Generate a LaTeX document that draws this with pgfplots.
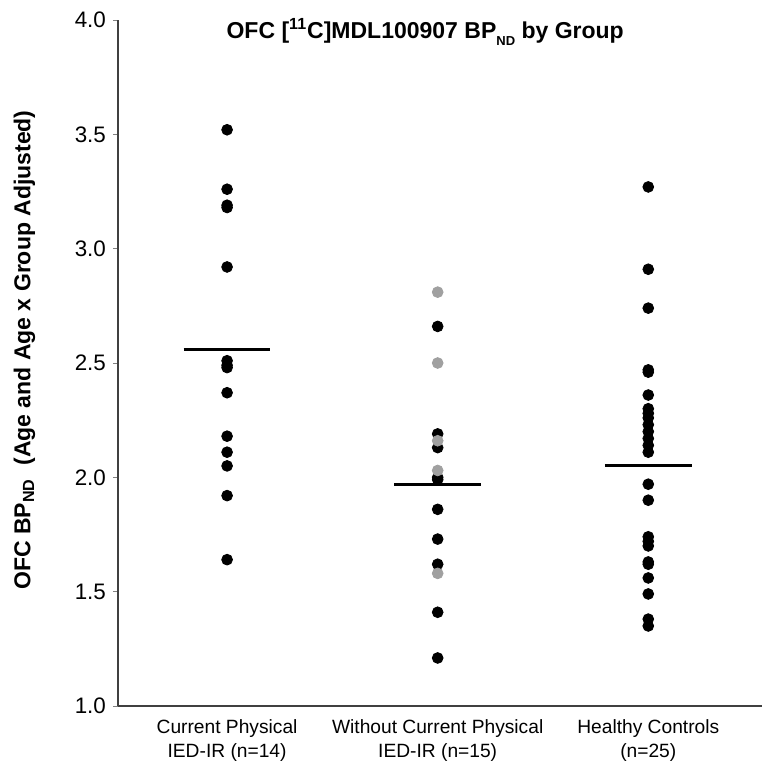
\documentclass[border=0pt]{standalone}
\usepackage{fontspec}
\setmainfont{Liberation Sans}
\usepackage{pgfplots}
\pgfplotsset{compat=1.18}
\definecolor{ptgray}{RGB}{160,160,160}
\begin{document}
\begin{tikzpicture}
\begin{axis}[
  scale only axis, width=322pt, height=343pt,
  xmin=-0.518, xmax=2.54, ymin=1, ymax=4,
  axis x line*=bottom, axis y line*=left,
  axis line style={black!75, line width=0.8pt},
  xtick={0,1,2},
  xticklabels={{Current Physical\\IED-IR (n=14)},{Without Current Physical\\IED-IR (n=15)},{Healthy Controls\\(n=25)}},
  xticklabel style={align=center, font=\fontsize{9.6}{12}\selectfont, yshift=-1pt},
  x tick style={draw=none},
  ytick={1,1.5,2,2.5,3,3.5,4},
  y tick style={draw=gray, line width=0.4pt},
  tick align=outside, major tick length=2.5pt,
  /pgf/number format/assume math mode=true,
  yticklabel style={font=\fontsize{11.2}{13}\selectfont, /pgf/number format/fixed, /pgf/number format/precision=1, /pgf/number format/fixed zerofill},
  ylabel={\textbf{OFC BP\textsubscript{ND}\ \ (Age and Age x Group Adjusted)}},
  ylabel style={at={(axis description cs:-0.136,0.519)}, anchor=base, font=\fontsize{11.5}{13}\selectfont},
  clip=false,
]
\addplot[only marks, mark=*, mark size=2.7pt, draw=black, fill=black] coordinates {
 (0,3.52) (0,3.26) (0,3.19) (0,3.18) (0,2.92) (0,2.51) (0,2.49) (0,2.48) (0,2.37) (0,2.18) (0,2.11) (0,2.05) (0,1.92) (0,1.64)
 (1,2.66) (1,2.19) (1,2.13) (1,2.00) (1,1.99) (1,1.86) (1,1.73) (1,1.62) (1,1.41) (1,1.21)
 (2,3.27) (2,2.91) (2,2.74) (2,2.47) (2,2.46) (2,2.36) (2,2.30) (2,2.28) (2,2.26) (2,2.23) (2,2.20) (2,2.17) (2,2.14) (2,2.11) (2,1.97) (2,1.90) (2,1.74) (2,1.72) (2,1.70) (2,1.63) (2,1.62) (2,1.56) (2,1.49) (2,1.38) (2,1.35)};
\addplot[only marks, mark=*, mark size=2.7pt, draw=ptgray, fill=ptgray] coordinates {
 (1,2.81) (1,2.50) (1,2.16) (1,2.03) (1,1.58)};
\addplot[black, line width=1.5pt] coordinates {(-0.206,2.56) (0.206,2.56)};
\addplot[black, line width=1.5pt] coordinates {(0.794,1.97) (1.206,1.97)};
\addplot[black, line width=1.5pt] coordinates {(1.794,2.05) (2.206,2.05)};
\node[font=\bfseries\fontsize{11.5}{13}\selectfont] at (rel axis cs:0.477,0.982) {OFC [\textsuperscript{11}C]MDL100907 BP\raisebox{-0.6ex}{\fontsize{6.5}{7}\selectfont ND} by Group};
\end{axis}
\pgfresetboundingbox
\path (-59pt,-31pt) rectangle (324.5pt,353pt);
\end{tikzpicture}
\end{document}
